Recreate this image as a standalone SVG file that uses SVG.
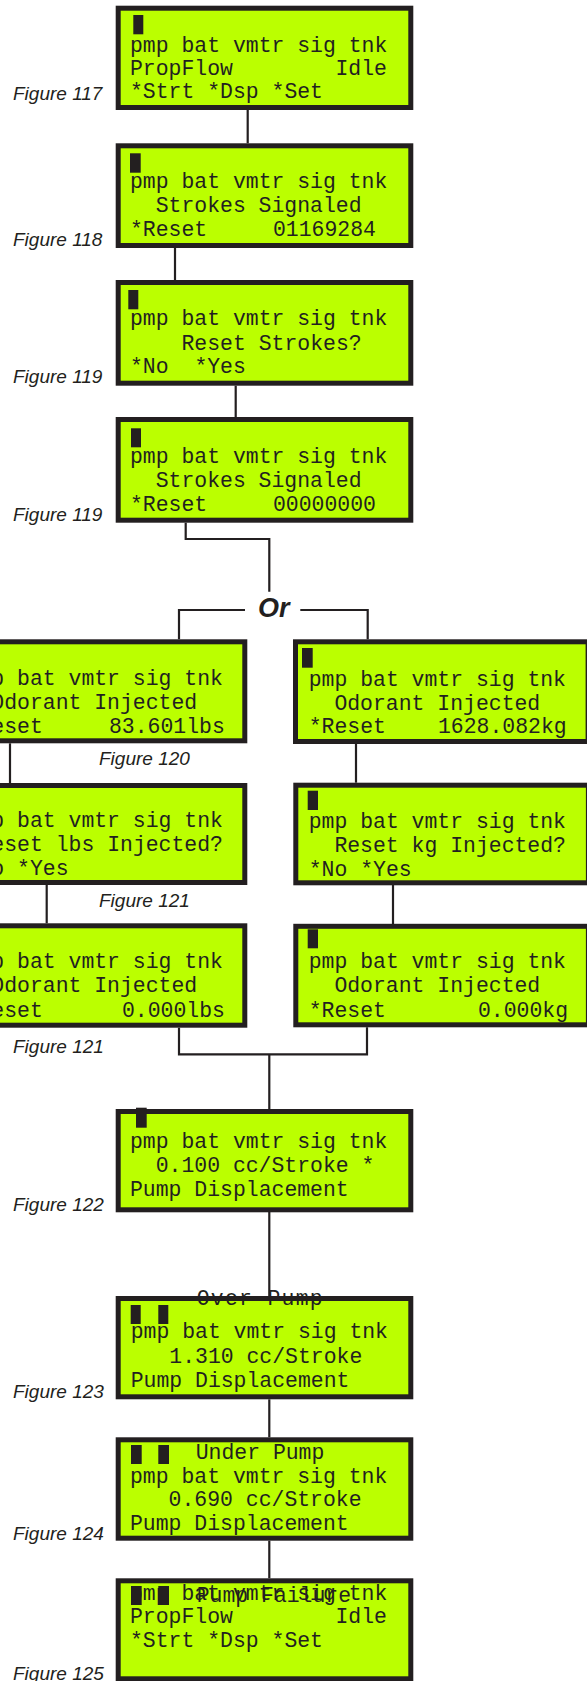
<svg xmlns="http://www.w3.org/2000/svg" width="587" height="1681" viewBox="0 0 587 1681">
<style>
.box{fill:#BBFF00;stroke:#231F20;stroke-width:5}
.lcd{font-family:"Liberation Mono","DejaVu Sans Mono",monospace;font-size:21.45px;fill:#231F20}
.cur{fill:#231F20}
.fig{font-family:"Liberation Sans",Arial,sans-serif;font-style:italic;font-size:19px;fill:#231F20}
.or{font-family:"Liberation Sans",Arial,sans-serif;font-style:italic;font-weight:bold;font-size:27px;fill:#231F20}
.conn{fill:none;stroke:#231F20;stroke-width:2.2}
</style>
<rect width="587" height="1681" fill="#FFFFFF"/>
<g id="connectors">
<path class="conn" d="M247.7 110 V143.3"/>
<path class="conn" d="M175 248 V280"/>
<path class="conn" d="M235.7 385.7 V417"/>
<path class="conn" d="M185.7 522.7 V539 H269.3 V591.7"/>
<path class="conn" d="M245 610 H179 V639.3"/>
<path class="conn" d="M300.3 610 H367.7 V639.3"/>
<path class="conn" d="M10 743.3 V783"/>
<path class="conn" d="M356 744 V782.7"/>
<path class="conn" d="M46.7 885 V923.3"/>
<path class="conn" d="M393 885 V924"/>
<path class="conn" d="M179 1027.7 V1054.3 H367 V1027.3"/>
<path class="conn" d="M269.3 1054.3 V1109"/>
<path class="conn" d="M269.3 1212 V1296"/>
<path class="conn" d="M269.3 1399.3 V1437.3"/>
<path class="conn" d="M269.3 1540.7 V1578.3"/>
</g>
<g id="or-label"><text class="or" x="258" y="617">Or</text></g>
<g id="fig117">
<rect class="box" x="118.2" y="8.2" width="292.6" height="99.3"/>
<rect class="cur" x="133.3" y="15" width="10" height="19.3"/>
<text class="lcd" x="130" y="51.7">pmp bat vmtr sig tnk</text>
<text class="lcd" x="130" y="75">PropFlow</text>
<text class="lcd" x="335.5" y="75">Idle</text>
<text class="lcd" x="130" y="98.3">*Strt *Dsp *Set</text>
<text class="fig" x="13" y="100">Figure 117</text>
</g>
<g id="fig118">
<rect class="box" x="118.2" y="145.8" width="292.6" height="99.7"/>
<rect class="cur" x="130" y="153.3" width="10.7" height="19.4"/>
<text class="lcd" x="130" y="187.7">pmp bat vmtr sig tnk</text>
<text class="lcd" x="155.7" y="212.2">Strokes Signaled</text>
<text class="lcd" x="130" y="236.3">*Reset</text>
<text class="lcd" x="273" y="236.3">01169284</text>
<text class="fig" x="13" y="246">Figure 118</text>
</g>
<g id="fig119a">
<rect class="box" x="118.2" y="282.5" width="292.6" height="100.7"/>
<rect class="cur" x="128.3" y="290" width="10" height="19.3"/>
<text class="lcd" x="130" y="325">pmp bat vmtr sig tnk</text>
<text class="lcd" x="181.5" y="349.5">Reset Strokes?</text>
<text class="lcd" x="130" y="373">*No</text>
<text class="lcd" x="194.4" y="373">*Yes</text>
<text class="fig" x="13" y="383">Figure 119</text>
</g>
<g id="fig119b">
<rect class="box" x="118.2" y="419.5" width="292.6" height="100.7"/>
<rect class="cur" x="131" y="428.3" width="10" height="19"/>
<text class="lcd" x="130" y="462.7">pmp bat vmtr sig tnk</text>
<text class="lcd" x="155.7" y="487">Strokes Signaled</text>
<text class="lcd" x="130" y="510.7">*Reset</text>
<text class="lcd" x="273" y="510.7">00000000</text>
<text class="fig" x="13" y="520.7">Figure 119</text>
</g>
<g id="fig120-lbs">
<rect class="box" x="-47.8" y="641.8" width="292.6" height="99"/>
<text class="lcd" x="-34.4" y="685">pmp bat vmtr sig tnk</text>
<text class="lcd" x="-8.7" y="709">Odorant Injected</text>
<text class="lcd" x="-34.4" y="733.3">*Reset</text>
<text class="lcd" x="109" y="733.3">83.601lbs</text>
<text class="fig" x="99" y="765">Figure 120</text>
</g>
<g id="fig120-kg">
<rect class="box" x="295.5" y="641.8" width="292.6" height="99.7"/>
<rect class="cur" x="302" y="648" width="10.7" height="19.7"/>
<text class="lcd" x="308.7" y="685.5">pmp bat vmtr sig tnk</text>
<text class="lcd" x="334.4" y="709.5">Odorant Injected</text>
<text class="lcd" x="308.7" y="733.3">*Reset</text>
<text class="lcd" x="438" y="733.3">1628.082kg</text>
</g>
<g id="fig121-lbs">
<rect class="box" x="-47.8" y="785.5" width="292.6" height="97"/>
<text class="lcd" x="-34.4" y="827">pmp bat vmtr sig tnk</text>
<text class="lcd" x="-21.5" y="851.3">Reset lbs Injected?</text>
<text class="lcd" x="-34.4" y="875.3">*No *Yes</text>
<text class="fig" x="99" y="907">Figure 121</text>
</g>
<g id="fig121-kg">
<rect class="box" x="295.8" y="785.2" width="292.6" height="97.6"/>
<rect class="cur" x="307.7" y="790.7" width="10.3" height="19.3"/>
<text class="lcd" x="308.7" y="827.5">pmp bat vmtr sig tnk</text>
<text class="lcd" x="334.4" y="851.5">Reset kg Injected?</text>
<text class="lcd" x="308.7" y="875.5">*No *Yes</text>
</g>
<g id="fig121b-lbs">
<rect class="box" x="-47.8" y="925.8" width="292.6" height="99.4"/>
<text class="lcd" x="-34.4" y="968.3">pmp bat vmtr sig tnk</text>
<text class="lcd" x="-8.7" y="992.3">Odorant Injected</text>
<text class="lcd" x="-34.4" y="1016.7">*Reset</text>
<text class="lcd" x="122" y="1016.7">0.000lbs</text>
<text class="fig" x="13" y="1053.3">Figure 121</text>
</g>
<g id="fig121b-kg">
<rect class="box" x="295.8" y="926.3" width="292.6" height="98.5"/>
<rect class="cur" x="307.7" y="929.3" width="10.3" height="19"/>
<text class="lcd" x="308.7" y="968.3">pmp bat vmtr sig tnk</text>
<text class="lcd" x="334.4" y="992.3">Odorant Injected</text>
<text class="lcd" x="308.7" y="1016.7">*Reset</text>
<text class="lcd" x="478" y="1016.7">0.000kg</text>
</g>
<g id="fig122">
<rect class="box" x="118.2" y="1111.5" width="292.6" height="98.3"/>
<rect class="cur" x="136" y="1107.7" width="10.7" height="20"/>
<text class="lcd" x="130" y="1148.3">pmp bat vmtr sig tnk</text>
<text class="lcd" x="155.7" y="1172.3">0.100 cc/Stroke *</text>
<text class="lcd" x="130" y="1196">Pump Displacement</text>
<text class="fig" x="13" y="1210.7">Figure 122</text>
</g>
<g id="fig123">
<rect class="box" x="118.2" y="1298.5" width="292.6" height="98.3"/>
<text class="lcd" x="196.7" y="1305" textLength="126" lengthAdjust="spacing">Over Pump</text>
<rect class="cur" x="130.7" y="1305" width="10" height="19"/>
<rect class="cur" x="158.3" y="1305" width="10" height="19"/>
<text class="lcd" x="130.7" y="1338.3">pmp bat vmtr sig tnk</text>
<text class="lcd" x="169.3" y="1362.5">1.310 cc/Stroke</text>
<text class="lcd" x="130.7" y="1386.7">Pump Displacement</text>
<text class="fig" x="13" y="1397.7">Figure 123</text>
</g>
<g id="fig124">
<rect class="box" x="118.2" y="1439.8" width="292.6" height="98.4"/>
<rect class="cur" x="131" y="1445" width="10.7" height="19"/>
<rect class="cur" x="158.3" y="1445" width="10.7" height="19"/>
<text class="lcd" x="195.7" y="1459">Under Pump</text>
<text class="lcd" x="130" y="1483.3">pmp bat vmtr sig tnk</text>
<text class="lcd" x="168.6" y="1506">0.690 cc/Stroke</text>
<text class="lcd" x="130" y="1530">Pump Displacement</text>
<text class="fig" x="13" y="1540">Figure 124</text>
</g>
<g id="fig125">
<rect class="box" x="118.2" y="1580.8" width="292.6" height="98"/>
<text class="lcd" x="130" y="1600">pmp bat vmtr sig tnk</text>
<text class="lcd" x="196.7" y="1601.5">Pump Failure</text>
<rect class="cur" x="131" y="1586" width="10.7" height="19"/>
<rect class="cur" x="158.3" y="1586" width="10.7" height="19"/>
<text class="lcd" x="130" y="1623.3">PropFlow</text>
<text class="lcd" x="335.5" y="1623.3">Idle</text>
<text class="lcd" x="130" y="1646.7">*Strt *Dsp *Set</text>
<text class="fig" x="13" y="1680">Figure 125</text>
</g>
</svg>
